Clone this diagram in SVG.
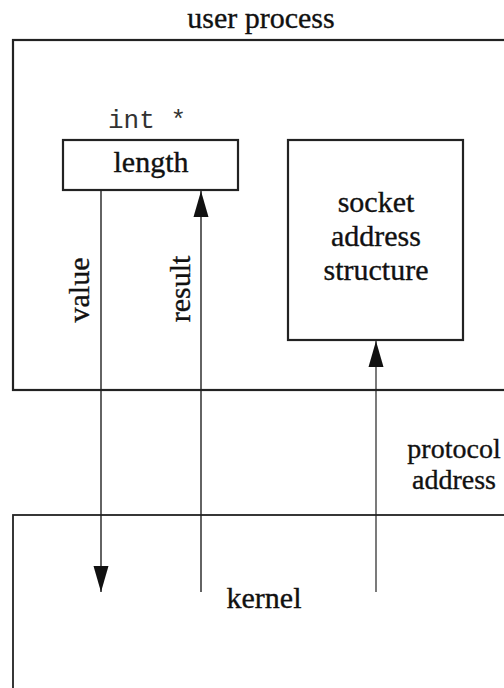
<svg xmlns="http://www.w3.org/2000/svg" width="504" height="688" viewBox="0 0 504 688">
<style>
  .box { fill: none; stroke: #222; stroke-width: 2.2; }
  .txt { font-family: "Liberation Serif", "Times New Roman", serif; font-size: 30px; fill: #111; stroke: #111; stroke-width: 0.35; }
  .small { font-size: 28px; }
  .mono { font-family: "Liberation Mono", "Courier New", monospace; font-size: 26px; fill: #333; }
  .conn { fill: none; stroke: #222; stroke-width: 1.4; }
</style>
<defs>
  <marker id="arrow" markerUnits="userSpaceOnUse" markerWidth="27" markerHeight="16" refX="26" refY="8" orient="auto">
    <path d="M0,0.5 L26,8 L0,15.5 z" fill="#111"/>
  </marker>
</defs>
<rect width="504" height="688" fill="#fff"/>
<g id="user-process">
  <rect class="box" x="13" y="40" width="500" height="350"/>
  <text class="txt" x="261" y="28" text-anchor="middle">user process</text>
</g>
<g id="kernel">
  <rect class="box" x="13" y="515" width="500" height="200" style="stroke-width:1.8"/>
  <text class="txt" x="264" y="608" text-anchor="middle">kernel</text>
</g>
<g id="length">
  <text class="mono" x="108" y="128">int *</text>
  <rect class="box" x="63" y="140" width="175" height="50"/>
  <text class="txt" x="151" y="172" text-anchor="middle">length</text>
</g>
<g id="socket-address-structure">
  <rect class="box" x="288" y="140" width="175" height="200"/>
  <text class="txt" x="376" y="212" text-anchor="middle">socket</text>
  <text class="txt" x="376" y="246" text-anchor="middle">address</text>
  <text class="txt" x="376" y="280" text-anchor="middle">structure</text>
</g>
<g id="connectors">
  <line class="conn" x1="101" y1="190" x2="101" y2="592" marker-end="url(#arrow)"/>
  <line class="conn" x1="201" y1="592" x2="201" y2="191" marker-end="url(#arrow)"/>
  <line class="conn" x1="376" y1="592" x2="376" y2="341" marker-end="url(#arrow)" style="stroke-width:1.2"/>
  <text class="txt" transform="translate(89,290) rotate(-90)" text-anchor="middle">value</text>
  <text class="txt" transform="translate(190,289) rotate(-90)" text-anchor="middle">result</text>
  <text class="txt small" x="454" y="458" text-anchor="middle">protocol</text>
  <text class="txt small" x="454" y="489" text-anchor="middle">address</text>
</g>
</svg>
